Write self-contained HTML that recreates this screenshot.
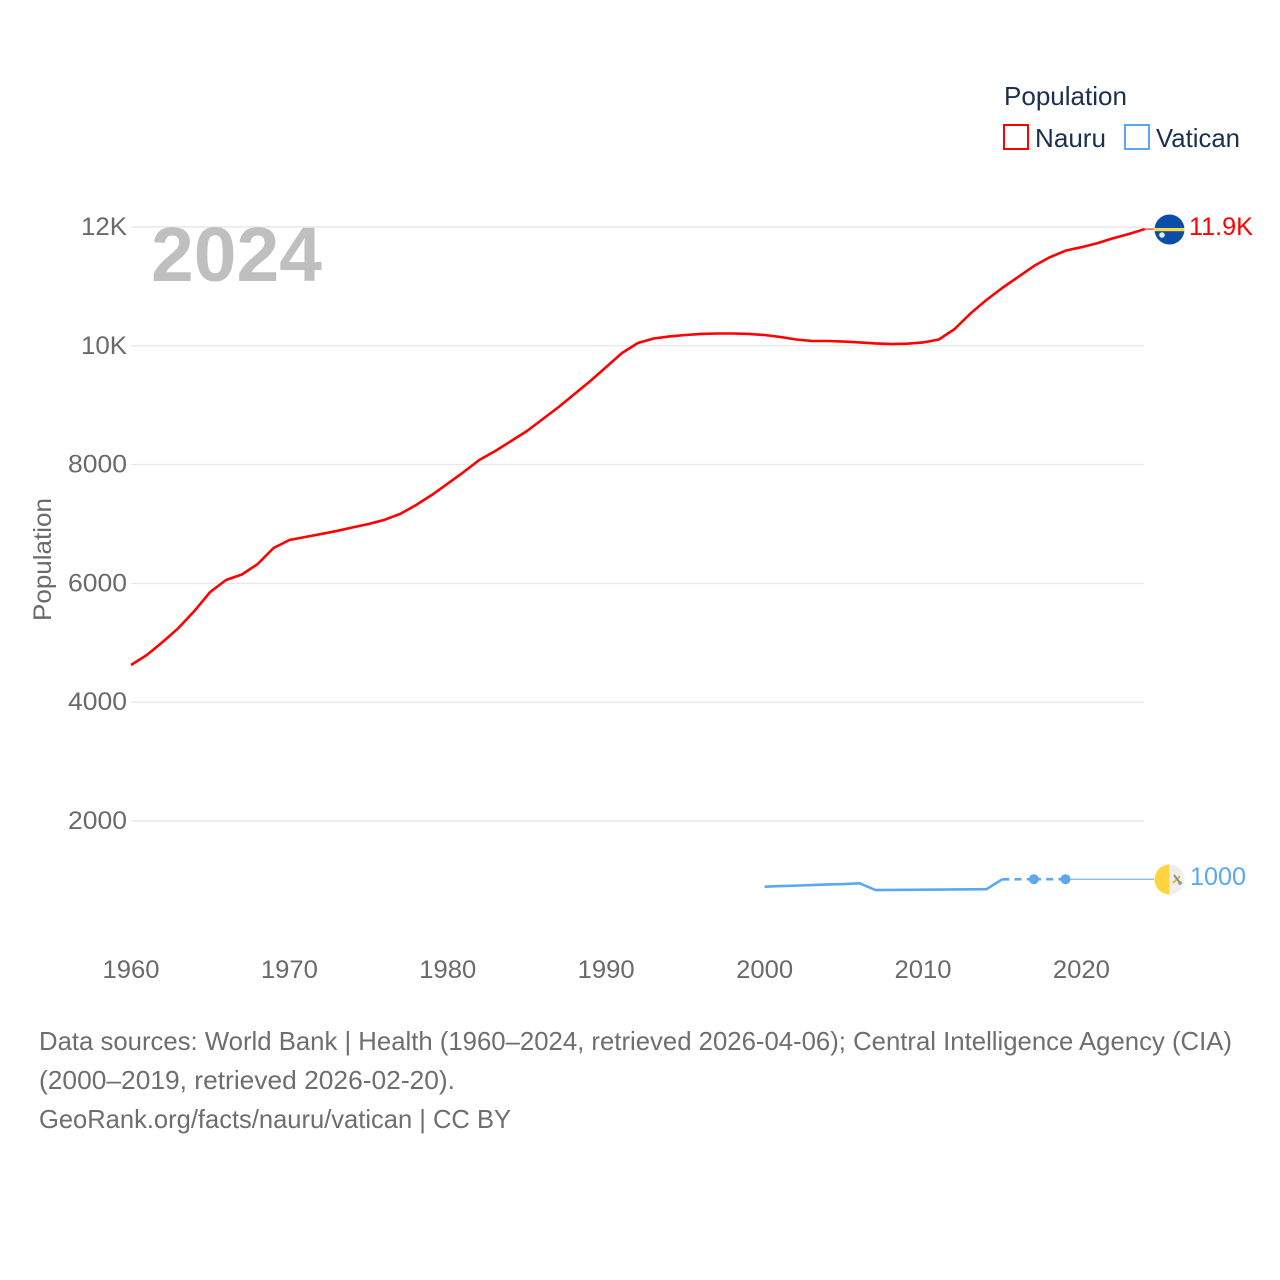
<!DOCTYPE html>
<html lang="en">
<head>
<meta charset="utf-8">
<title>Population: Nauru and Vatican</title>
<style>
html,body{margin:0;padding:0;background:#fff}
svg{display:block}
text{font-family:"Liberation Sans",sans-serif}
</style>
</head>
<body>
<svg id="chart" xmlns="http://www.w3.org/2000/svg" width="1280" height="1280" viewBox="0 0 1280 1280">
  <rect x="0" y="0" width="1280" height="1280" fill="#fff"/>
  <g id="grid"></g>
  <g id="yticks"></g>
  <g id="xticks"></g>
  <text x="151" y="281" font-size="77" font-weight="700" fill="#bfbfbf" textLength="171" lengthAdjust="spacingAndGlyphs">2024</text>
  <text transform="translate(51,621) rotate(-90)" font-size="25" fill="#6a6a6a" textLength="123" lengthAdjust="spacingAndGlyphs">Population</text>
  <g id="series"></g>

  <g>
    <circle cx="1169.5" cy="229.5" r="15" fill="#0b4ea8"/>
    <rect x="1154.5" y="228" width="30" height="3.2" fill="#ffd83d"/>
    <circle cx="1162" cy="235" r="2.8" fill="#e8eef7"/>
  </g>
  <g>
    <path d="M1169.5 864.5a15 15 0 0 0 0 30z" fill="#ffd53f"/>
    <path d="M1169.5 864.5a15 15 0 0 1 0 30z" fill="#eeeeee"/>
    <path d="M1173 883l7-7" stroke="#e2bb3a" stroke-width="2"/>
    <path d="M1174 875l6 8" stroke="#8f8f8f" stroke-width="2"/>
    <circle cx="1180" cy="883" r="1.8" fill="#8f8f8f"/>
  </g>
  <text x="1189" y="235" font-size="25" fill="#ff0000" textLength="64" lengthAdjust="spacingAndGlyphs">11.9K</text>
  <text x="1190" y="885" font-size="25" fill="#5ba8ee" textLength="56" lengthAdjust="spacingAndGlyphs">1000</text>

  <g>
    <text x="1004" y="105" font-size="26" fill="#1b2f4e" textLength="123" lengthAdjust="spacingAndGlyphs">Population</text>
    <g>
      <rect x="1004" y="125" width="24" height="24" fill="none" stroke="#ff0000" stroke-width="2"/>
      <text x="1035" y="147" font-size="26" fill="#1b2f4e" textLength="71" lengthAdjust="spacingAndGlyphs">Nauru</text>
    </g>
    <g>
      <rect x="1125" y="125" width="24" height="24" fill="none" stroke="#5ba8ee" stroke-width="2"/>
      <text x="1156" y="147" font-size="26" fill="#1b2f4e" textLength="84" lengthAdjust="spacingAndGlyphs">Vatican</text>
    </g>
  </g>

  <g font-size="26" fill="#6e6e6e">
    <text x="39" y="1050" textLength="1193" lengthAdjust="spacingAndGlyphs">Data sources: World Bank | Health (1960–2024, retrieved 2026-04-06); Central Intelligence Agency (CIA)</text>
    <text x="39" y="1089" textLength="416" lengthAdjust="spacingAndGlyphs">(2000–2019, retrieved 2026-02-20).</text>
    <text x="39" y="1128" textLength="472" lengthAdjust="spacingAndGlyphs">GeoRank.org/facts/nauru/vatican | CC BY</text>
  </g>
</svg>
<script>
const xTickYears = [1960, 1970, 1980, 1990, 2000, 2010, 2020];
const yTickValues = [2000, 4000, 6000, 8000, 10000, 12000];
const yTickLabels = ['2000', '4000', '6000', '8000', '10K', '12K'];
const nauruStartYear = 1960;
const nauruValues = [4626, 4795, 5013, 5250, 5535, 5855, 6057, 6150, 6327, 6596,
  6731, 6781, 6832, 6883, 6943, 7000, 7070, 7170, 7320, 7490,
  7680, 7875, 8080, 8229, 8397, 8566, 8768, 8970, 9188, 9407,
  9643, 9879, 10047, 10123, 10157, 10182, 10199, 10207, 10207, 10199,
  10182, 10148, 10106, 10081, 10081, 10072, 10056, 10039, 10030, 10035,
  10056, 10106, 10283, 10545, 10771, 10973, 11158, 11343, 11490, 11602,
  11660, 11727, 11811, 11883, 11965];
const vaticanYears = [2000, 2001, 2002, 2003, 2004, 2005, 2006, 2007, 2008, 2009, 2010, 2011, 2012, 2013, 2014, 2015];
const vaticanValues = [894, 904, 912, 922, 932, 938, 951, 838, 840, 842, 843, 846, 848, 850, 851, 1018];
const vaticanDashedYears = [2015, 2017, 2019];
const vaticanDashedValues = [1018, 1020, 1020];

const NS = 'http://www.w3.org/2000/svg';
const xScale = year => 131 + (year - 1960) * 15.84;
const yScale = value => 939.8 - value * 0.0594;
const make = (parent, tag, attrs) => {
  const el = document.createElementNS(NS, tag);
  for (const key in attrs) el.setAttribute(key, attrs[key]);
  parent.appendChild(el);
  return el;
};
const grid = document.getElementById('grid');
const yticks = document.getElementById('yticks');
const xticks = document.getElementById('xticks');
const series = document.getElementById('series');

yTickValues.forEach((value, i) => {
  const y = yScale(value);
  const line = make(grid, 'line', {x1: 131, x2: 1144, y1: y, y2: y, stroke: '#e8e8e8', 'stroke-width': 1.4});
  
  
  const label = make(yticks, 'text', {x: 127, y: y + 8, 'text-anchor': 'end', 'font-size': 25, fill: '#6a6a6a',
    textLength: yTickLabels[i].length === 3 ? 46 : 59, lengthAdjust: 'spacingAndGlyphs'});
  label.textContent = yTickLabels[i];
  
  
});

xTickYears.forEach(year => {
  const label = make(xticks, 'text', {x: xScale(year), y: 978, 'text-anchor': 'middle', 'font-size': 25, fill: '#6a6a6a',
    textLength: 57, lengthAdjust: 'spacingAndGlyphs'});
  label.textContent = String(year);
  
  
});

const nauruPoints = nauruValues.map((v, i) => xScale(nauruStartYear + i).toFixed(2) + ',' + yScale(v).toFixed(2)).join(' ');
const nauruLine = make(series, 'polyline', {points: nauruPoints, fill: 'none', stroke: '#ff0000', 'stroke-width': 2.6, 'stroke-linejoin': 'round'});



const nauruLast = nauruValues[nauruValues.length - 1];
const nauruConnector = make(series, 'line', {x1: xScale(nauruStartYear + nauruValues.length - 1), x2: 1154, y1: yScale(nauruLast), y2: yScale(nauruLast), stroke: '#ff0000', 'stroke-width': 1});



const vaticanPoints = vaticanValues.map((v, i) => xScale(vaticanYears[i]).toFixed(2) + ',' + yScale(v).toFixed(2)).join(' ');
const vaticanLine = make(series, 'polyline', {points: vaticanPoints, fill: 'none', stroke: '#5ba8ee', 'stroke-width': 2.6, 'stroke-linejoin': 'round'});



vaticanDashedYears.slice(1).forEach((year, i) => {
  const segment = make(series, 'line', {x1: xScale(vaticanDashedYears[i]), y1: yScale(vaticanDashedValues[i]), x2: xScale(year), y2: yScale(vaticanDashedValues[i + 1]), stroke: '#5ba8ee', 'stroke-width': 2.6, 'stroke-dasharray': '7 5.3'});
  
  
});

vaticanDashedYears.slice(1).forEach((year, i) => {
  const dot = make(series, 'circle', {cx: xScale(year), cy: yScale(vaticanDashedValues[i + 1]), r: 5, fill: '#5ba8ee'});
  
  
});

const vaticanLastIndex = vaticanDashedYears.length - 1;
const vaticanConnector = make(series, 'line', {x1: xScale(vaticanDashedYears[vaticanLastIndex]), x2: 1154, y1: yScale(vaticanDashedValues[vaticanLastIndex]), y2: yScale(vaticanDashedValues[vaticanLastIndex]), stroke: '#5ba8ee', 'stroke-width': 1});


</script>
</body>
</html>
